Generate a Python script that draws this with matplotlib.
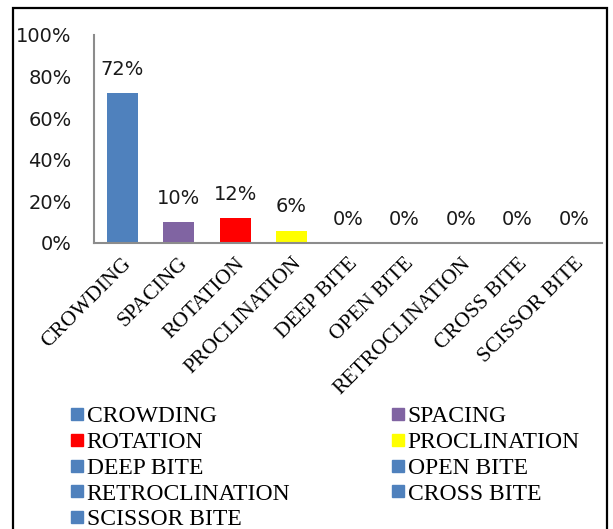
import matplotlib
matplotlib.use("Agg")
import matplotlib.pyplot as plt
from matplotlib.lines import Line2D
from matplotlib.patches import Rectangle

categories = ["CROWDING", "SPACING", "ROTATION", "PROCLINATION", "DEEP BITE",
              "OPEN BITE", "RETROCLINATION", "CROSS BITE", "SCISSOR BITE"]
values = [72, 10, 12, 6, 0, 0, 0, 0, 0]
colors = ["#4F81BD", "#8064A2", "#FF0000", "#FFFF00", "#4F81BD",
          "#4F81BD", "#4F81BD", "#4F81BD", "#4F81BD"]
yticks = [0, 20, 40, 60, 80, 100]

W, H = 613, 529
fig = plt.figure(figsize=(W / 100, H / 100), dpi=100)
fig.patch.set_facecolor("white")

# frame around the whole chart
fig.add_artist(Rectangle((13 / W, -0.05), (607 - 13) / W, 1.05 - 8 / H,
                         transform=fig.transFigure, fill=False,
                         edgecolor="black", linewidth=1.6))

ax = fig.add_axes([94 / W, (H - 243) / H, (602 - 94) / W, (243 - 35) / H])
x = range(len(categories))
ax.bar(x, values, width=0.55, color=colors)
ax.set_xlim(-0.5, len(categories) - 0.5)
ax.set_ylim(0, 100)

for xi, v in zip(x, values):
    ax.annotate(f"{v}%", (xi, v), xytext=(0, 17), textcoords="offset points",
                ha="center", va="center", fontsize=14,
                family="DejaVu Sans", color="#1a1a1a")

ax.set_yticks(yticks)
ax.set_yticklabels([f"{t}%" for t in yticks], fontsize=14,
                   family="DejaVu Sans", color="#1a1a1a")
ax.tick_params(axis="y", length=0, pad=16)
ax.set_xticks(list(x))
ax.set_xticklabels(categories, rotation=45, ha="right", rotation_mode="anchor",
                   fontsize=15.5, family="Liberation Serif", color="black")
ax.tick_params(axis="x", length=0, pad=8)

for s in ["top", "right"]:
    ax.spines[s].set_visible(False)
for s in ["left", "bottom"]:
    ax.spines[s].set_color("#8c8c8c")
    ax.spines[s].set_linewidth(1.5)

# legend ordered row by row across two columns
order = [0, 2, 4, 6, 8, 1, 3, 5, 7]
handles = [Line2D([], [], linestyle="none", marker="s", markersize=8,
                  markerfacecolor=colors[i], markeredgecolor=colors[i])
           for i in order]
labels = [categories[i] for i in order]
fig.legend(handles, labels, ncol=2, loc="upper left",
           bbox_to_anchor=(59 / W, (H - 394) / H), frameon=False,
           prop={"family": "Liberation Serif", "size": 17},
           handlelength=0.55, handletextpad=0.12, labelspacing=0.18,
           columnspacing=4.3, borderpad=0)

fig.savefig("out.png", dpi=100)
